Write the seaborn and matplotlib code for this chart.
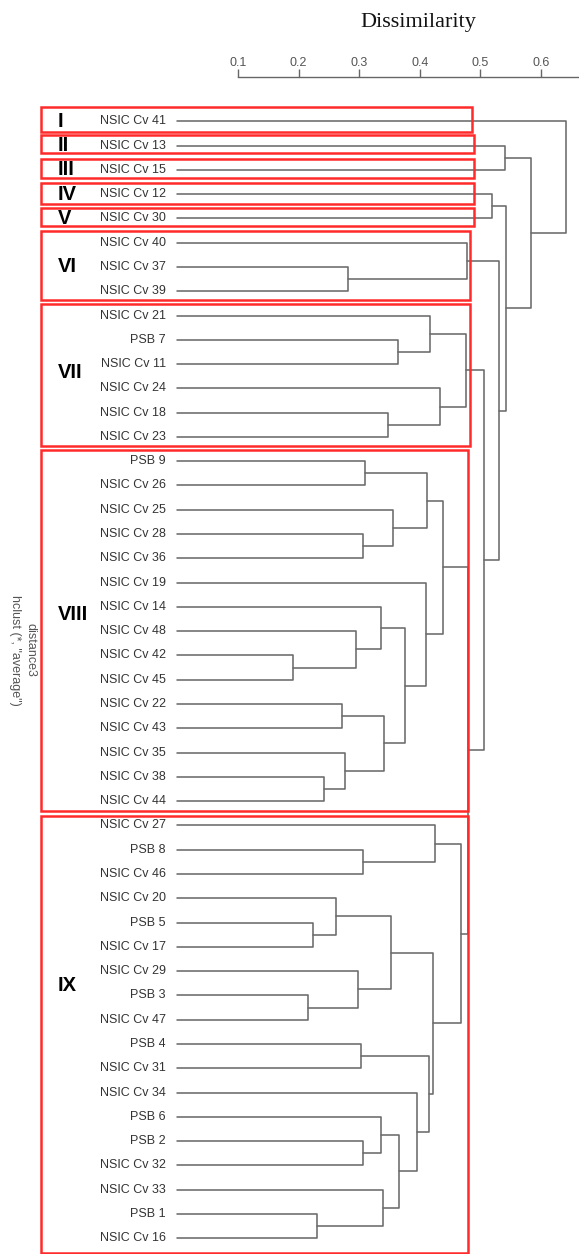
import numpy as np
import pandas as pd
import matplotlib.pyplot as plt
import seaborn as sns
from matplotlib.patches import Rectangle

# genotypes in dendrogram order (top to bottom)
leaves = ["NSIC Cv 41", "NSIC Cv 13", "NSIC Cv 15", "NSIC Cv 12", "NSIC Cv 30",
          "NSIC Cv 40", "NSIC Cv 37", "NSIC Cv 39",
          "NSIC Cv 21", "PSB 7", "NSIC Cv 11", "NSIC Cv 24", "NSIC Cv 18", "NSIC Cv 23",
          "PSB 9", "NSIC Cv 26", "NSIC Cv 25", "NSIC Cv 28", "NSIC Cv 36", "NSIC Cv 19",
          "NSIC Cv 14", "NSIC Cv 48", "NSIC Cv 42", "NSIC Cv 45", "NSIC Cv 22", "NSIC Cv 43",
          "NSIC Cv 35", "NSIC Cv 38", "NSIC Cv 44",
          "NSIC Cv 27", "PSB 8", "NSIC Cv 46", "NSIC Cv 20", "PSB 5", "NSIC Cv 17",
          "NSIC Cv 29", "PSB 3", "NSIC Cv 47", "PSB 4", "NSIC Cv 31", "NSIC Cv 34",
          "PSB 6", "PSB 2", "NSIC Cv 32", "NSIC Cv 33", "PSB 1", "NSIC Cv 16"]

# merges: strings are leaves, ints point to an earlier merge
merges = [
    ("NSIC Cv 37", "NSIC Cv 39"), ("NSIC Cv 40", 0),                      # VI
    ("PSB 7", "NSIC Cv 11"), ("NSIC Cv 21", 2),
    ("NSIC Cv 18", "NSIC Cv 23"), ("NSIC Cv 24", 4), (3, 5),              # VII
    ("PSB 9", "NSIC Cv 26"), ("NSIC Cv 28", "NSIC Cv 36"), ("NSIC Cv 25", 8), (7, 9),
    ("NSIC Cv 42", "NSIC Cv 45"), ("NSIC Cv 48", 11), ("NSIC Cv 14", 12),
    ("NSIC Cv 22", "NSIC Cv 43"), ("NSIC Cv 38", "NSIC Cv 44"), ("NSIC Cv 35", 15),
    (14, 16), (13, 17), ("NSIC Cv 19", 18), (10, 19),                     # VIII
    ("PSB 8", "NSIC Cv 46"), ("NSIC Cv 27", 21),
    ("PSB 5", "NSIC Cv 17"), ("NSIC Cv 20", 23),
    ("PSB 3", "NSIC Cv 47"), ("NSIC Cv 29", 25), (24, 26),
    ("PSB 4", "NSIC Cv 31"), ("PSB 2", "NSIC Cv 32"), ("PSB 6", 29),
    ("PSB 1", "NSIC Cv 16"), ("NSIC Cv 33", 31), (30, 32), ("NSIC Cv 34", 33),
    (28, 34), (27, 35), (22, 36),                                         # IX
    (20, 37), (6, 38), (1, 39),
    ("NSIC Cv 12", "NSIC Cv 30"), (41, 40),
    ("NSIC Cv 13", "NSIC Cv 15"), (43, 42),
    ("NSIC Cv 41", 44),                                                   # root
]

heights = [0.281, 0.478,
           0.364, 0.417, 0.347, 0.433, 0.476,
           0.310, 0.307, 0.356, 0.412, 0.190, 0.294, 0.336,
           0.272, 0.242, 0.276, 0.341, 0.376, 0.410, 0.439,
           0.306, 0.425, 0.224, 0.261, 0.215, 0.298, 0.352,
           0.303, 0.306, 0.336, 0.231, 0.339, 0.366, 0.395,
           0.416, 0.422, 0.468,
           0.479, 0.506, 0.531, 0.519, 0.543, 0.541, 0.583, 0.641]

groups = ["I", "II", "III", "IV", "V", "VI", "VII", "VIII", "IX"]
group_sizes = [1, 1, 1, 1, 1, 3, 6, 15, 18]

ticks = [0.1, 0.2, 0.3, 0.4, 0.5, 0.6]

# layout in figure pixels
W, H = 579, 1254
x01, px_per = 238, 606          # pixel of 0.1 and pixels per unit
row0, row_px = 121.3, 24.28     # first leaf row and row spacing
axis_px = 77

def px2d(px):
    return 0.1 + (px - x01) / px_per

def px2row(py):
    return (py - row0) / row_px

# build the dendrogram segments
pos = {n: i for i, n in enumerate(leaves)}
node_y, node_h = [], []

def where(c):
    if isinstance(c, str):
        return pos[c], 0.0
    return node_y[c], node_h[c]

rows = []
for k, ((a, b), h) in enumerate(zip(merges, heights)):
    ya, ha = where(a)
    yb, hb = where(b)
    for d, y in [(ha, ya), (h, ya), (h, yb), (hb, yb)]:
        rows.append({"seg": k, "d": d, "row": y})
    node_y.append((ya + yb) / 2)
    node_h.append(h)
seg_df = pd.DataFrame(rows)

sns.set_theme(style="white")
plt.rcParams["font.family"] = ["Liberation Sans", "DejaVu Sans"]

fig = plt.figure(figsize=(W / 100, H / 100), dpi=100)
ax = fig.add_axes([0, 0, 1, 1 - axis_px / H])

sns.lineplot(data=seg_df, x="d", y="row", units="seg", estimator=None, sort=False,
             color="#6a6a6a", linewidth=1.15, legend=False, ax=ax)

ax.set_xlim(px2d(0), px2d(W))
ax.set_ylim(px2row(H), px2row(axis_px))
ax.set_xlabel("")
ax.set_ylabel("")

# leaf labels
for i, name in enumerate(leaves):
    ax.text(px2d(166), i, name, ha="right", va="center", fontsize=9, color="#333333")

# red cluster boxes
pad_top = [0.60, 0.44, 0.44, 0.44, 0.42, 0.47, 0.47, 0.46, 0.40]
pad_bot = [0.43, 0.32, 0.32, 0.41, 0.31, 0.36, 0.37, 0.41, 0.60]
box_right = [472, 474, 474, 474, 474, 470, 470, 468, 468]
num_rows = [0, 1, 2, 3, 4, 6, 10.35, 20.3, 35.6]

start = 0
for g, size in enumerate(group_sizes):
    top = start - pad_top[g]
    bot = start + size - 1 + pad_bot[g]
    left, right = px2d(41), px2d(box_right[g])
    ax.add_patch(Rectangle((left, top), right - left, bot - top, fill=False,
                           edgecolor="#ff2a2a", linewidth=1.8, zorder=3))
    clip = Rectangle((left, top + 0.22), right - left, bot - top - 0.44,
                     transform=ax.transData)
    t = ax.text(px2d(58), num_rows[g], groups[g], ha="left", va="center",
                fontsize=14.5, fontweight="bold", color="black")
    t.set_clip_path(clip)
    start += size

# top scale
ax.set_xticks(ticks)
ax.set_xticklabels([f"{t:.1f}" for t in ticks])
ax.tick_params(axis="x", top=True, labeltop=True, bottom=False, labelbottom=False,
               direction="out", length=5.5, width=1, color="#666",
               labelcolor="#555", labelsize=9, pad=0.5)
ax.tick_params(axis="y", left=False, labelleft=False)
for s in ["left", "right", "bottom"]:
    ax.spines[s].set_visible(False)
ax.spines["top"].set_bounds(0.1, px2d(W))
ax.spines["top"].set_color("#666")
ax.spines["top"].set_linewidth(1)

fig.text(418 / W, 1 - 22 / H, "Dissimilarity", ha="center", va="center",
         fontsize=16, family=["Liberation Serif", "DejaVu Serif"], color="#111")

fig.text(23 / W, 1 - 650 / H, 'distance3\nhclust (*, "average")', rotation=-90,
         ha="center", va="center", multialignment="center", fontsize=9,
         color="#555", linespacing=1.35)

fig.savefig("out.png", dpi=100)
